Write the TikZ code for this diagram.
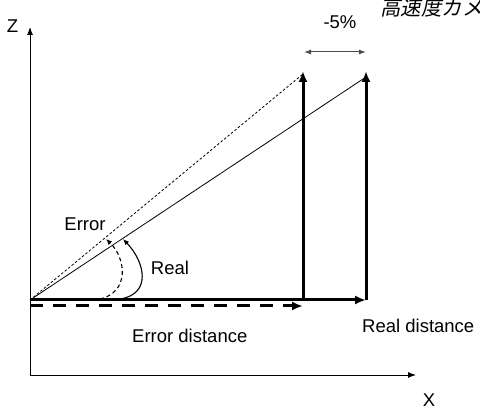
\documentclass[tikz,border=0pt]{standalone}
\usepackage{fontspec}
\setmainfont{Liberation Sans}
\newfontfamily\cjkfont[FakeSlant=0.2]{Noto Sans CJK JP}
\usetikzlibrary{arrows.meta}

\begin{document}
\begin{tikzpicture}[x=1pt, y=-1pt,
    axis/.style={line width=0.9pt, -{Latex[length=8pt, width=6pt]}},
    bar/.style={line width=3pt, -{Latex[length=11pt, width=9pt]}},
    anglearrow/.style={line width=1.1pt, -{Latex[length=6pt, width=5pt]}},
    lbl/.style={font=\fontsize{18.5}{22}\selectfont, inner sep=0pt}]
    \useasboundingbox (0,0) rectangle (480,409);
    % axes
    \coordinate (O) at (30, 375);
    \coordinate (Zt) at (30, 27);
    \coordinate (Xt) at (416, 375);
    \draw[axis] (O) -- (Zt);
    \draw[axis] (O) -- (Xt);
    \node[lbl] (Zl) at (12.5, 26) {Z};
    \node[lbl] (Xl) at (429, 400) {X};
    % distances
    \coordinate (P) at (30, 300);
    \coordinate (Ep) at (303, 300);
    \coordinate (Rp) at (366, 300);
    \coordinate (Et) at (303, 71);
    \coordinate (Rt) at (366, 71);
    \coordinate (Pd) at (30, 306);
    \coordinate (Ed) at (303, 306);
    \draw[bar] (P) -- (Rp);
    \draw[bar] (Ep) -- (Et);
    \draw[bar] (Rp) -- (Rt);
    \draw[bar, dash pattern=on 13pt off 10pt] (Pd) -- (Ed);
    % sight lines
    \coordinate (Rs) at (366, 77);
    \coordinate (Es) at (303, 74);
    \draw[line width=0.8pt] (P) -- (Rs);
    \draw[line width=0.8pt, dash pattern=on 2.5pt off 2pt] (P) -- (Es);
    % angles
    \coordinate (Ra) at (120, 299);
    \coordinate (Rb) at (123, 239);
    \coordinate (Ea) at (100, 299);
    \coordinate (Eb) at (106, 239);
    \draw[anglearrow] (Ra) .. controls (152, 294) and (145, 262) .. (Rb);
    \draw[anglearrow, dash pattern=on 4pt off 3pt] (Ea) .. controls (130, 292) and (126, 258) .. (Eb);
    \node[lbl] (El) at (85, 224) {Error};
    \node[lbl] (Rl) at (170, 268) {Real};
    % -5 %
    \coordinate (Ua) at (304, 52);
    \coordinate (Ub) at (366, 52);
    \draw[line width=1pt, black!70, {Latex[length=7pt, width=5pt]}-{Latex[length=7pt, width=5pt]}] (Ua) -- (Ub);
    \node[lbl] (Pc) at (340, 22) {-5\%};
    \node[lbl, anchor=west] (Edl) at (132, 336) {Error distance};
    \node[lbl, anchor=west] (Rdl) at (362, 326) {Real distance};
    \node[lbl, anchor=west, font=\fontsize{20.5}{24}\selectfont] (Cam) at (380, 8) {\cjkfont 高速度カメラ};
\end{tikzpicture}
\end{document}
